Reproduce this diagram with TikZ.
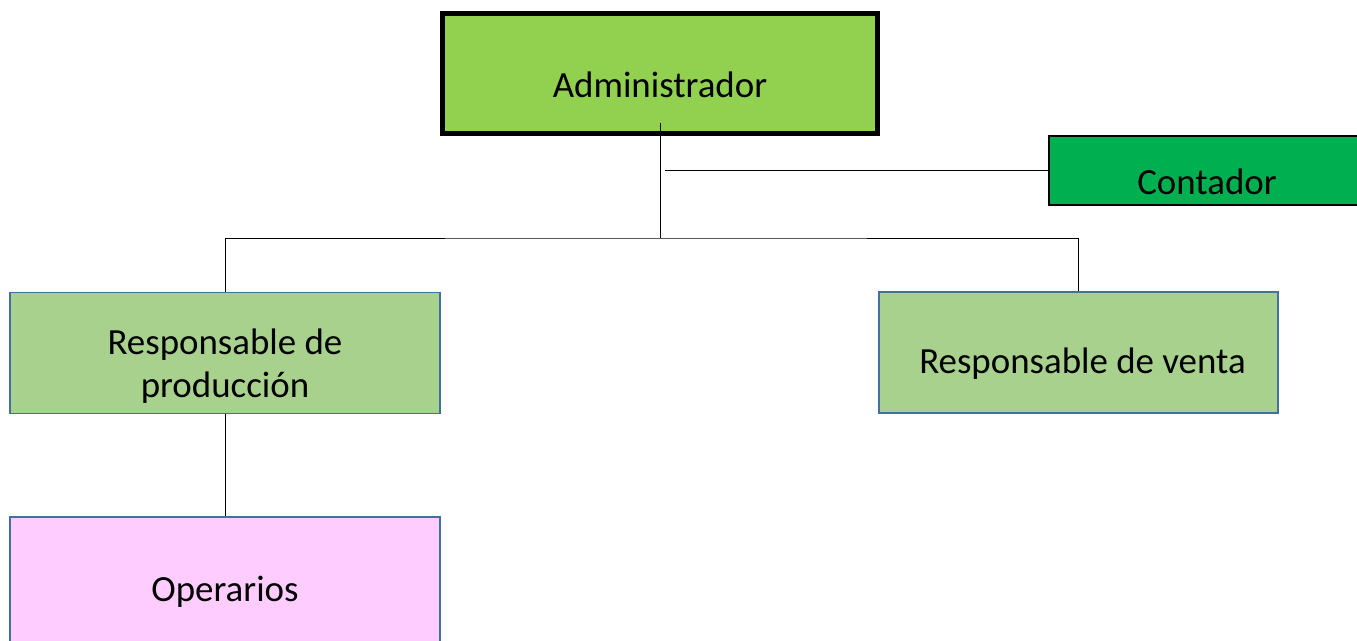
\documentclass[tikz,border=0pt]{standalone}
\usepackage{fontspec}
\setmainfont{Carlito}
\definecolor{admgreen}{HTML}{92D050}
\definecolor{ctrgreen}{HTML}{00B050}
\definecolor{resgreen}{HTML}{A9D18E}
\definecolor{operpink}{HTML}{FFCCFF}
\definecolor{boxblue}{HTML}{41719C}

\begin{document}
\begin{tikzpicture}[x=0.2mm,y=-0.2mm,
        box/.style={draw,inner sep=0pt},
        bluebox/.style={box,draw=boxblue,line width=1pt},
        txt/.style={font=\fontsize{21}{24.5}\selectfont,yshift=-2.3mm},
        twoline/.style={font=\fontsize{21}{24.5}\selectfont,align=center,yshift=-2.6mm},
        conn/.style={draw,line width=0.5pt}]
        \path[use as bounding box,clip] (0,0) rectangle (1357,640);

        \node[box,line width=2.6pt,fill=admgreen,minimum width=87mm,minimum height=24mm,
          label={[txt]center:Administrador}] (adm) at (660,73.5) {};
        \node[box,line width=1.3pt,fill=ctrgreen,minimum width=63.2mm,minimum height=13.8mm,
          label={[txt]center:Contador}] (ctr) at (1207,170.5) {};
        \node[bluebox,fill=resgreen,minimum width=86mm,minimum height=24.2mm,
          label={[twoline]center:Responsable de\\producción}] (prod) at (225,353) {};
        \node[bluebox,fill=resgreen,minimum width=79.8mm,minimum height=24.3mm,
          label={[txt,xshift=0.8mm]center:Responsable de venta}] (venta) at (1078.5,352.5) {};
        \node[bluebox,fill=operpink,minimum width=86mm,minimum height=25.2mm,
          label={[txt]center:Operarios}] (oper) at (225,580) {};

        \coordinate (hub) at (660,238);
        \coordinate (tap) at (665,170.5);

        \draw[conn] ([yshift=2.6mm]adm.south) -- (hub);
        \draw[conn] (tap) -- (ctr.west);
        \draw[conn] (prod.north) |- (hub) -| (venta.north);
        \draw[conn] (prod.south) -- (oper.north);
\end{tikzpicture}
\end{document}
